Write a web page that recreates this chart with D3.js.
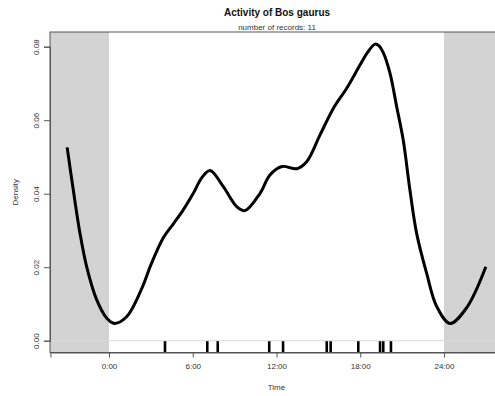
<!DOCTYPE html>
<html>
<head>
<meta charset="utf-8">
<script src="https://cdn.jsdelivr.net/npm/d3@7"></script>
<style>
  html, body { margin: 0; padding: 0; background: #fff; }
  svg { display: block; font-family: "Liberation Sans", Arial, sans-serif; }
</style>
</head>
<body>
<svg id="chart" width="495" height="396"></svg>
<script>
// Kernel density of activity time (hours), sampled along the curve
const curveHours = [-3.0, -2.56, -2.08, -1.60, -0.88, -0.16, 0.40, 1.26, 2.28, 3.05, 3.89, 4.61, 5.32, 6.04,
  6.64, 7.24, 8.19, 9.15, 9.74, 10.82, 11.53, 12.40, 13.45, 14.16, 15.12, 16.07, 17.03, 17.98, 18.50,
  19.06, 19.35, 19.65, 20.13, 20.61, 21.08, 21.56, 22.04, 22.76, 23.48, 24.43, 25.63, 27.0];
const curveDensity = [0.0526, 0.0410, 0.0292, 0.0201, 0.0111, 0.0061, 0.0047, 0.0065, 0.0136, 0.0211, 0.0280, 0.0318, 0.0356, 0.0401,
  0.0443, 0.0463, 0.0419, 0.0365, 0.0354, 0.0401, 0.0451, 0.0474, 0.0468, 0.0487, 0.0560, 0.0632, 0.0687, 0.0750, 0.0783,
  0.0807, 0.0802, 0.0784, 0.0728, 0.0637, 0.0546, 0.0410, 0.0292, 0.0183, 0.0093, 0.0047, 0.0090, 0.0201];

// Times of the 11 records (hours)
const recordTimes = [4.01, 7.04, 7.79, 11.48, 12.47, 15.60, 15.88, 17.86, 19.42, 19.65, 20.20];

const xTickValues = [0, 6, 12, 18, 24];
const xTickLabels = ["0:00", "6:00", "12:00", "18:00", "24:00"];
const yTickValues = [0, 0.02, 0.04, 0.06, 0.08];
const yTickLabels = ["0.00", "0.02", "0.04", "0.06", "0.08"];

const titleText = "Activity of Bos gaurus";
const subtitleText = "number of records: " + recordTimes.length;

const svg = d3.select("#chart");

// plot region
const plotLeft = 50, plotTop = 32, plotBottom = 352.5;
const x = d3.scaleLinear().domain([-4.2, 28.2]).range([50.4, 502.6]);
const y = d3.scaleLinear().domain([0, 0.08]).range([340.7, 46.7]);
const plotRight = x.range()[1];

// white day window, grey outside 0:00-24:00
svg.append("rect").attr("x", plotLeft).attr("y", plotTop)
  .attr("width", plotRight - plotLeft).attr("height", plotBottom - plotTop).attr("fill", "#ffffff");
svg.append("rect").attr("x", plotLeft).attr("y", plotTop)
  .attr("width", x(0) - plotLeft).attr("height", plotBottom - plotTop).attr("fill", "#d3d3d3");
svg.append("rect").attr("x", x(24)).attr("y", plotTop)
  .attr("width", plotRight - x(24)).attr("height", plotBottom - plotTop).attr("fill", "#d3d3d3");

// zero baseline
svg.append("line").attr("x1", plotLeft).attr("x2", plotRight)
  .attr("y1", y(0)).attr("y2", y(0)).attr("stroke", "#d9d9d9").attr("stroke-width", 1);

// rug of record times
svg.append("g").selectAll("line").data(recordTimes).join("line")
  .attr("x1", d => x(d)).attr("x2", d => x(d))
  .attr("y1", y(0) + 0.5).attr("y2", plotBottom)
  .attr("stroke", "#000").attr("stroke-width", 2.6);

// density curve
const pts = curveHours.map((h, i) => [h, curveDensity[i]]);
const line = d3.line().x(d => x(d[0])).y(d => y(d[1])).curve(d3.curveCatmullRom.alpha(0.5));
svg.append("path").attr("d", line(pts)).attr("fill", "none")
  .attr("stroke", "#000").attr("stroke-width", 3).attr("stroke-linejoin", "round").attr("stroke-linecap", "butt");

// frame
svg.append("rect").attr("x", plotLeft).attr("y", plotTop)
  .attr("width", plotRight - plotLeft).attr("height", plotBottom - plotTop)
  .attr("fill", "none").attr("stroke", "#555").attr("stroke-width", 1);

// x axis
const xAxis = d3.axisBottom(x).tickValues(xTickValues)
  .tickFormat((d, i) => xTickLabels[i]).tickSize(5).tickPadding(6);
const gx = svg.append("g").attr("transform", `translate(0,${plotBottom})`).call(xAxis);
gx.select(".domain").attr("stroke", "#555");
gx.selectAll(".tick line").attr("stroke", "#555");
gx.selectAll("text").attr("font-size", 8).attr("fill", "#333")
  .attr("font-family", "Liberation Sans, Arial, sans-serif");

// y axis
const yAxis = d3.axisLeft(y).tickValues(yTickValues)
  .tickFormat((d, i) => yTickLabels[i]).tickSize(6).tickPadding(0);
const gy = svg.append("g").attr("transform", `translate(${plotLeft},0)`).call(yAxis);
gy.select(".domain").attr("stroke", "#555");
gy.selectAll(".tick line").attr("stroke", "#555");
gy.selectAll("text").attr("font-size", 8).attr("fill", "#333")
  .attr("font-family", "Liberation Sans, Arial, sans-serif")
  .attr("text-anchor", "middle").attr("x", 0).attr("dy", null)
  .attr("transform", "translate(-14,0) rotate(-90)")
  .attr("dominant-baseline", "central");

// axis titles
svg.append("text").attr("x", x(12)).attr("y", 390).attr("text-anchor", "middle")
  .attr("font-size", 8).attr("fill", "#333").text("Time");
svg.append("text").attr("transform", `translate(15,${(plotTop + plotBottom) / 2}) rotate(-90)`)
  .attr("text-anchor", "middle").attr("dominant-baseline", "central")
  .attr("font-size", 8).attr("fill", "#333").text("Density");

// titles
svg.append("text").attr("x", 277).attr("y", 16).attr("text-anchor", "middle")
  .attr("font-size", 10).attr("font-weight", "bold").attr("fill", "#111").text(titleText);
svg.append("text").attr("x", 277).attr("y", 29.5).attr("text-anchor", "middle")
  .attr("font-size", 8).attr("fill", "#333").text(subtitleText);
</script>
</body>
</html>
